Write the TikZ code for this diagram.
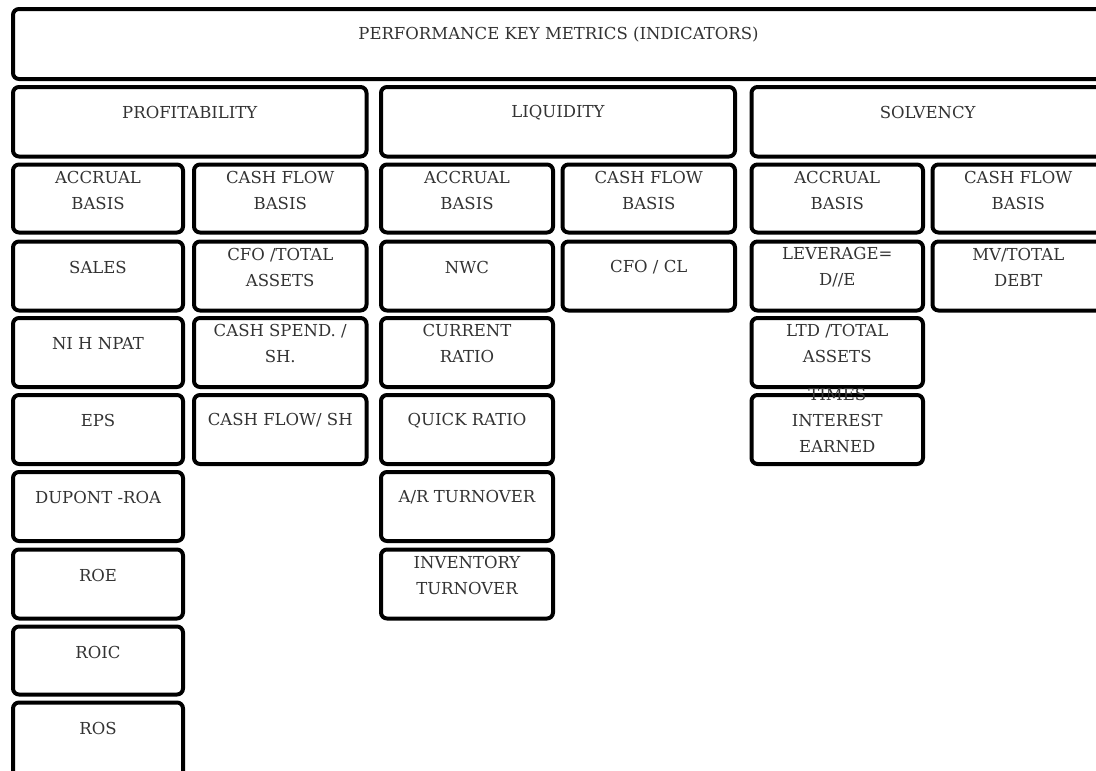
\documentclass[tikz,border=0pt]{standalone}
\usepackage{fontspec}
\setmainfont{DejaVu Serif}
\tikzset{
  mbox/.style={draw=black, line width=4pt, rounded corners=6pt, fill=white, anchor=north west, inner sep=0pt, minimum height=69pt},
  mtext/.style={align=center, font=\fontsize{16.5}{26}\selectfont, text=black!80, inner sep=0pt},
}
\newcommand{\mb}[6]{% name, x, y, width, height, text
  \node[mbox, minimum width=#4pt, minimum height=#5pt] (#1) at (#2pt,-#3pt) {};
  \node[mtext] (#1-t) at ([yshift=-27.5pt]#1.north) {#6};
}
\begin{document}
\begin{tikzpicture}[x=1pt,y=1pt]
\useasboundingbox (0,0) rectangle (1096,-771);
\fill[white] (0,0) rectangle (1096,-771);
% header
\mb{hdr}{11}{7}{1091}{70}{PERFORMANCE KEY METRICS (INDICATORS)}
% groups
\mb{prof}{11}{85}{353.5}{69.5}{PROFITABILITY}
\mb{liq}{379}{85}{354}{69.5}{LIQUIDITY}
\mb{solv}{749.5}{85}{352.5}{69.5}{SOLVENCY}
% row 1: bases
\mb{pa}{11}{162.5}{170}{68}{ACCRUAL\\BASIS}
\mb{pc}{192}{162.5}{172.5}{68}{CASH FLOW\\BASIS}
\mb{la}{379}{162.5}{172}{68}{ACCRUAL\\BASIS}
\mb{lc}{560.5}{162.5}{172.5}{68}{CASH FLOW\\BASIS}
\mb{sa}{749.5}{162.5}{171.5}{68}{ACCRUAL\\BASIS}
\mb{sc}{930.5}{162.5}{171.5}{68}{CASH FLOW\\BASIS}
% row 2
\mb{p1}{11}{239.5}{170}{69}{SALES}
\mb{pc1}{192}{239.5}{172.5}{69}{CFO /TOTAL\\ASSETS}
\mb{l1}{379}{239.5}{172}{69}{NWC}
\mb{lc1}{560.5}{239.5}{172.5}{69}{CFO / CL}
\mb{s1}{749.5}{239.5}{171.5}{69}{LEVERAGE=\\D//E}
\mb{sc1}{930.5}{239.5}{171.5}{69}{MV/TOTAL\\DEBT}
% row 3
\mb{p2}{11}{316}{170}{69}{NI H NPAT}
\mb{pc2}{192}{316}{172.5}{69}{CASH SPEND. /\\SH.}
\mb{l2}{379}{316}{172}{69}{CURRENT\\RATIO}
\mb{s2}{749.5}{316}{171.5}{69}{LTD /TOTAL\\ASSETS}
% row 4
\mb{p3}{11}{393}{170}{69}{EPS}
\mb{pc3}{192}{393}{172.5}{69}{CASH FLOW/ SH}
\mb{l3}{379}{393}{172}{69}{QUICK RATIO}
\mb{s3}{749.5}{393}{171.5}{69}{TIMES\\INTEREST\\EARNED}
% row 5
\mb{p4}{11}{470}{170}{69}{DUPONT -ROA}
\mb{l4}{379}{470}{172}{69}{A/R TURNOVER}
% row 6
\mb{p5}{11}{547.5}{170}{69}{ROE}
\mb{l5}{379}{547.5}{172}{69}{INVENTORY\\TURNOVER}
% row 7
\mb{p6}{11}{624.5}{170}{68}{ROIC}
% row 8
\mb{p7}{11}{700.5}{170}{80}{ROS}
\end{tikzpicture}
\end{document}
